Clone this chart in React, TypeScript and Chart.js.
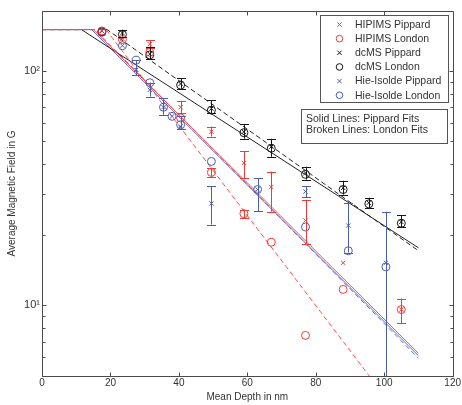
import React, { useEffect, useRef } from 'react';
import { Chart, registerables } from 'chart.js';

Chart.register(...registerables);

// ---------- data ----------
// dcMS
const dcX = [17.5, 23.5, 31.5, 40.5, 49.5, 59, 67, 77, 88, 95.5, 105];
const dcPippard = [148, 145, 118, 88, 69, 55, 47.5, 36.7, 31.7, 27.4, 22.7];
const dcLondon = [147, 143, 117, 87, 68, 54.5, 46.8, 36.2, 31.2, 27.1, 22.4];
const dcErrLo = [null, 140, 112, 84, 66, 51.4, 43, 34.4, 29.7, 26.1, 21.5];
const dcErrHi = [null, 150, 126, 93, 75, 59.4, 51.4, 39, 34, 28.8, 24.2];

// HIPIMS
const hiX = [17.5, 23.5, 31.5, 40.5, 49.5, 59, 67, 77, 88, 105];
const hiPippard = [148, 137, 130, 70, 55, 40.5, 32, 23, 15.2, 9.6];
const hiLondon = [148, 136, 120, 63, 36.9, 24.6, 18.6, 7.45, 11.7, 9.6];
const hiPErrLo = [null, null, 125, 66, 52.5, 34.9, 25.1, 18.2, null, null];
const hiPErrHi = [null, null, 135, 74.5, 57.9, 45.4, 37.2, 28.2, null, null];
const hiLErrLo = [null, null, null, null, 35.3, 23.6, null, null, null, 8.4];
const hiLErrHi = [null, null, null, null, 38.6, 25.5, null, null, null, 10.7];

// Hie-Isolde
const hieX = [17.5, 23.5, 27.5, 31.5, 35.5, 38, 40.5, 49.5, 63, 77, 89.5, 100.5];
const hiePippard = [148, 128, 101, 83, 70, 64, 58, 27.2, 31.2, 30.6, 21.9, 15.2];
const hieLondon = [146, 128, 111, 89, 70, 64, 58.9, 41.1, 31.2, 21.6, 17.1, 14.6];
const hieErrLo = [null, null, 96, 77.7, 65, null, 56.5, 22.1, 25.2, 28.9, 16.8, 3];
const hieErrHi = [null, null, 111, 89.2, 76.6, null, 64, 32.2, 34.9, 32.2, 27.4, 25.1];

// Fits: flat at fitStart from 0 to break, then exponential decay to fitEndX
const fitLabels = ['HIPIMS Pippard fit', 'HIPIMS London fit', 'dcMS Pippard fit', 'dcMS London fit', 'Hie-Isolde Pippard fit', 'Hie-Isolde London fit'];
const fitStart = 150;
const fitEndX = 110;
const fitBreaks = [15, 18.7, 11.5, 19, 14.5, 15.5];
const fitEnds = [6.25, 2.65, 17.6, 17.1, 6.1, 5.95];

const xTicks = [0, 20, 40, 60, 80, 100, 120];
const yMajorTicks = [10, 100];
const yTickLabels = ['10\u00B9', '10\u00B2'];

// ---------- styles ----------
const RED = '#f03a3a';
const BLUE = '#4a5cb4';
const BLACK = '#151515';
const AXIS = '#4a4a4a';
const TEXT = '#333333';
const FONT = "'Liberation Sans', Arial, Helvetica, sans-serif";

const colors = [RED, RED, BLACK, BLACK, BLUE, BLUE];
const lineColors = ['#ff4848', '#ff5050', '#222222', '#222222', '#5a6cc8', '#6677cc'];
const dashed = [false, true, false, true, false, true];

const markerSets = [
  { label: 'HIPIMS Pippard', xs: hiX, ys: hiPippard, lo: hiPErrLo, hi: hiPErrHi, style: 'crossRot' },
  { label: 'HIPIMS London', xs: hiX, ys: hiLondon, lo: hiLErrLo, hi: hiLErrHi, style: 'circle' },
  { label: 'dcMS Pippard', xs: dcX, ys: dcPippard, lo: dcErrLo, hi: dcErrHi, style: 'crossRot' },
  { label: 'dcMS London', xs: dcX, ys: dcLondon, lo: null, hi: null, style: 'circle' },
  { label: 'Hie-Isolde Pippard', xs: hieX, ys: hiePippard, lo: hieErrLo, hi: hieErrHi, style: 'crossRot' },
  { label: 'Hie-Isolde London', xs: hieX, ys: hieLondon, lo: null, hi: null, style: 'circle' },
];

function buildDatasets() {
  const ds: any[] = [];
  fitLabels.forEach((label, i) => {
    ds.push({
      label,
      isFit: true,
      data: [
        { x: 0, y: fitStart },
        { x: fitBreaks[i], y: fitStart },
        { x: fitEndX, y: fitEnds[i] },
      ],
      showLine: true,
      borderColor: lineColors[i],
      borderWidth: 1,
      borderDash: dashed[i] ? [5, 3] : [],
      pointRadius: 0,
      pointHoverRadius: 0,
      fill: false,
      order: 10,
    });
  });
  markerSets.forEach((m, i) => {
    ds.push({
      label: m.label,
      isMarker: true,
      markerStyle: m.style,
      errLo: m.lo,
      errHi: m.hi,
      data: m.xs.map((x, k) => ({ x, y: m.ys[k] })),
      showLine: false,
      pointStyle: m.style,
      pointRadius: m.style === 'circle' ? 4 : 3,
      pointBorderWidth: 1,
      borderColor: colors[i],
      backgroundColor: 'rgba(0,0,0,0)',
      pointBackgroundColor: 'rgba(0,0,0,0)',
      pointBorderColor: colors[i],
      order: 1,
    });
  });
  return ds;
}

function drawMarker(ctx: CanvasRenderingContext2D, style: string, x: number, y: number, color: string, r: number) {
  ctx.save();
  ctx.strokeStyle = color;
  ctx.lineWidth = 1;
  ctx.beginPath();
  if (style === 'circle') {
    ctx.arc(x, y, r, 0, Math.PI * 2);
  } else {
    ctx.moveTo(x - r, y - r);
    ctx.lineTo(x + r, y + r);
    ctx.moveTo(x - r, y + r);
    ctx.lineTo(x + r, y - r);
  }
  ctx.stroke();
  ctx.restore();
}

const errorBarPlugin = {
  id: 'errorBars',
  afterDatasetsDraw(chart: any) {
    const { ctx, chartArea: a, scales } = chart;
    const xs = scales.x;
    const ys = scales.y;
    ctx.save();
    ctx.beginPath();
    ctx.rect(a.left, a.top, a.right - a.left, a.bottom - a.top);
    ctx.clip();
    chart.data.datasets.forEach((d: any) => {
      if (!d.isMarker || !d.errLo) return;
      ctx.strokeStyle = d.borderColor;
      ctx.lineWidth = 1;
      d.data.forEach((p: any, k: number) => {
        const lo = d.errLo[k];
        const hi = d.errHi[k];
        if (lo == null || hi == null) return;
        const px = Math.round(xs.getPixelForValue(p.x)) + 0.5;
        const pl = ys.getPixelForValue(lo);
        const ph = ys.getPixelForValue(hi);
        const cw = 4.5;
        ctx.beginPath();
        ctx.moveTo(px, pl);
        ctx.lineTo(px, ph);
        ctx.moveTo(px - cw, Math.round(pl) + 0.5);
        ctx.lineTo(px + cw, Math.round(pl) + 0.5);
        ctx.moveTo(px - cw, Math.round(ph) + 0.5);
        ctx.lineTo(px + cw, Math.round(ph) + 0.5);
        ctx.stroke();
      });
    });
    ctx.restore();
  },
  afterDraw(chart: any) {
    const { ctx, chartArea: a, scales } = chart;
    const xs = scales.x;
    const ys = scales.y;
    ctx.save();
    ctx.strokeStyle = AXIS;
    ctx.lineWidth = 1;
    const L = Math.round(a.left) + 0.5;
    const R = Math.round(a.right) + 0.5;
    const T = Math.round(a.top) + 0.5;
    const B = Math.round(a.bottom) + 0.5;
    ctx.beginPath();
    ctx.rect(L, T, R - L, B - T);
    ctx.stroke();
    // x ticks (inward, top and bottom)
    ctx.beginPath();
    xTicks.forEach((v) => {
      const px = Math.round(xs.getPixelForValue(v)) + 0.5;
      ctx.moveTo(px, B);
      ctx.lineTo(px, B - 4);
      ctx.moveTo(px, T);
      ctx.lineTo(px, T + 4);
    });
    // y ticks (log: majors and minors), left and right
    const minE = Math.floor(Math.log10(ys.min));
    const maxE = Math.ceil(Math.log10(ys.max));
    for (let e = minE; e <= maxE; e++) {
      for (let m = 1; m <= 9; m++) {
        const v = m * Math.pow(10, e);
        if (v < ys.min || v > ys.max) continue;
        const py = Math.round(ys.getPixelForValue(v)) + 0.5;
        const len = m === 1 ? 4 : 3;
        ctx.moveTo(L, py);
        ctx.lineTo(L + len, py);
        ctx.moveTo(R, py);
        ctx.lineTo(R - len, py);
      }
    }
    ctx.stroke();

    // legend box
    const lf = `10.5px ${FONT}`;
    ctx.fillStyle = '#ffffff';
    ctx.fillRect(320.5, 15.5, 128, 87);
    ctx.strokeStyle = '#555555';
    ctx.strokeRect(320.5, 15.5, 128, 87);
    ctx.font = lf;
    ctx.textBaseline = 'middle';
    ctx.textAlign = 'left';
    const markerDs = chart.data.datasets.filter((d: any) => d.isMarker);
    markerDs.forEach((d: any, i: number) => {
      const yy = 24.5 + i * 14.15;
      drawMarker(ctx, d.markerStyle, 339.5, yy, d.borderColor, d.markerStyle === 'circle' ? 3.3 : 2.2);
      ctx.fillStyle = TEXT;
      ctx.fillText(d.label, 355, yy + 0.5);
    });

    // note box
    ctx.fillStyle = '#ffffff';
    ctx.fillRect(301.5, 109.5, 146, 34);
    ctx.strokeStyle = '#555555';
    ctx.strokeRect(301.5, 109.5, 146, 34);
    ctx.fillStyle = TEXT;
    ctx.fillText('Solid Lines: Pippard Fits', 306, 118.8);
    ctx.fillText('Broken Lines: London Fits', 306, 130.5);
    ctx.restore();
  },
};

export default function App() {
  const ref = useRef<HTMLCanvasElement>(null);
  useEffect(() => {
    if (!ref.current) return;
    Chart.defaults.font.family = FONT;
    const chart = new Chart(ref.current, {
      type: 'scatter',
      data: { datasets: buildDatasets() },
      options: {
        responsive: false,
        animation: false,
        devicePixelRatio: 1,
        layout: { padding: { top: 11, right: 9, left: 0, bottom: 0 } },
        plugins: {
          legend: { display: false },
          tooltip: { enabled: false },
        },
        scales: {
          x: {
            type: 'linear',
            min: 0,
            max: 120,
            afterBuildTicks: (s: any) => {
              s.ticks = xTicks.map((v) => ({ value: v }));
            },
            ticks: { font: { size: 10 }, color: TEXT, padding: 1, maxRotation: 0, autoSkip: false },
            grid: { display: false, drawTicks: false },
            border: { display: false },
            title: { display: true, text: 'Mean Depth in nm', font: { size: 10 }, color: TEXT, padding: { top: 0, bottom: 2 } },
            afterFit: (s: any) => {
              s.height = 29;
            },
          },
          y: {
            type: 'logarithmic',
            min: 5,
            max: 180,
            afterBuildTicks: (s: any) => {
              s.ticks = yMajorTicks.map((v) => ({ value: v }));
            },
            ticks: {
              font: { size: 11 },
              color: TEXT,
              padding: 2,
              autoSkip: false,
              callback: (v: any) => {
                const i = yMajorTicks.indexOf(Number(v));
                return i >= 0 ? yTickLabels[i] : '';
              },
            },
            grid: { display: false, drawTicks: false },
            border: { display: false },
            title: { display: true, text: 'Average Magnetic Field in G', font: { size: 10 }, color: TEXT, padding: { top: 6, bottom: 0 } },
            afterFit: (s: any) => {
              s.width = 42;
            },
          },
        },
      } as any,
      plugins: [errorBarPlugin],
    });
    return () => chart.destroy();
  }, []);
  return (
    <div style={{ position: 'absolute', left: 0, top: 0, width: 462, height: 405, background: '#fff' }}>
      <canvas ref={ref} width={462} height={405} style={{ display: 'block', width: 462, height: 405 }} />
    </div>
  );
}
